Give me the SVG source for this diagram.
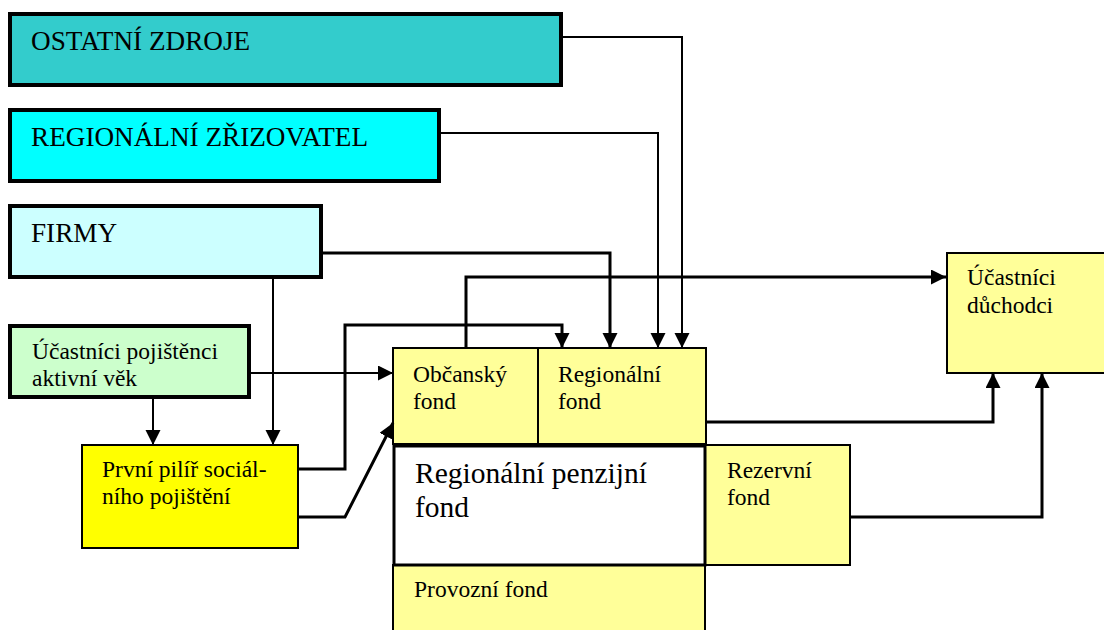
<svg xmlns="http://www.w3.org/2000/svg" width="1104" height="630" viewBox="0 0 1104 630">
<style>
.big{font-size:27.2px}
.sm{font-size:23.5px}
.xl{font-size:29.5px}
.thick{stroke:#000;stroke-width:4}
.thin{stroke:#000;stroke-width:2}
.mid{stroke:#000;stroke-width:3}
.c{fill:none;stroke:#000;stroke-width:2}
.c3{fill:none;stroke:#000;stroke-width:3}
</style>
<defs>
<marker id="ah" markerUnits="userSpaceOnUse" markerWidth="16" markerHeight="16" refX="15" refY="7.5" orient="auto">
<path d="M0,0 L15,7.5 L0,15 z" fill="#000"/>
</marker>
</defs>
<rect width="1104" height="630" fill="#fff"/>
<g font-family="Liberation Serif, serif" fill="#000">
<g id="ostatni"><rect class="thick" x="10" y="14" width="551" height="71" fill="#33CCCC"/><text class="big" x="31" y="50">OSTATNÍ ZDROJE</text></g>
<g id="zrizovatel"><rect class="thick" x="10" y="110" width="429" height="71" fill="#00FFFF"/><text class="big" x="31" y="146">REGIONÁLNÍ ZŘIZOVATEL</text></g>
<g id="firmy"><rect class="thick" x="10" y="206" width="311" height="71" fill="#CCFFFF"/><text class="big" x="31" y="242">FIRMY</text></g>
<g id="pojistenci"><rect class="thick" x="10" y="326" width="239" height="71" fill="#CCFFCC"/><text class="sm" x="32" y="359">Účastníci pojištěnci</text><text class="sm" x="32" y="386">aktivní věk</text></g>
<g id="prvni-pilir"><rect class="thin" x="82" y="445" width="216" height="103" fill="#FFFF00"/><text class="sm" x="102" y="477">První pilíř sociál-</text><text class="sm" x="102" y="504">ního pojištění</text></g>
<g id="obcansky-fond"><rect class="thin" x="393" y="348" width="145" height="96" fill="#FFFF99"/><text class="sm" x="413" y="382">Občanský</text><text class="sm" x="413" y="409">fond</text></g>
<g id="regionalni-fond"><rect class="thin" x="538" y="348" width="168" height="96" fill="#FFFF99"/><text class="sm" x="558" y="382">Regionální</text><text class="sm" x="558" y="409">fond</text></g>
<g id="provozni-fond"><rect class="thin" x="393" y="565" width="312" height="80" fill="#FFFF99"/><text class="sm" x="414" y="597">Provozní fond</text></g>
<g id="rezervni-fond"><rect class="thin" x="705" y="445" width="145" height="120" fill="#FFFF99"/><text class="sm" x="727" y="478">Rezervní</text><text class="sm" x="727" y="505">fond</text></g>
<g id="penzijni-fond"><rect class="mid" x="394" y="446" width="311" height="119" fill="#FFFFFF"/><text class="xl" x="415" y="483">Regionální penzijní</text><text class="xl" x="415" y="517">fond</text></g>
<g id="duchodci"><rect class="thin" x="947" y="253" width="160" height="120" fill="#FFFF99"/><text class="sm" x="967" y="285">Účastníci</text><text class="sm" x="967" y="313">důchodci</text></g>
</g>
<g id="connectors">
<path class="c" d="M563,37 H682 V348" marker-end="url(#ah)"/>
<path class="c" d="M441,133 H658 V348" marker-end="url(#ah)"/>
<path class="c3" d="M323,253 H610 V348" marker-end="url(#ah)"/>
<path class="c3" d="M298,469 H345 V325 H562 V348" marker-end="url(#ah)"/>
<path class="c3" d="M298,517 H345 L393,423" marker-end="url(#ah)"/>
<path class="c" d="M251,373 H393" marker-end="url(#ah)"/>
<path class="c" d="M153,399 V445" marker-end="url(#ah)"/>
<path class="c" d="M273,278 V445" marker-end="url(#ah)"/>
<path class="c3" d="M466,348 V277 H946" marker-end="url(#ah)"/>
<path class="c3" d="M706,422 H993 V373" marker-end="url(#ah)"/>
<path class="c3" d="M850,517 H1042 V373" marker-end="url(#ah)"/>
</g>
</svg>
